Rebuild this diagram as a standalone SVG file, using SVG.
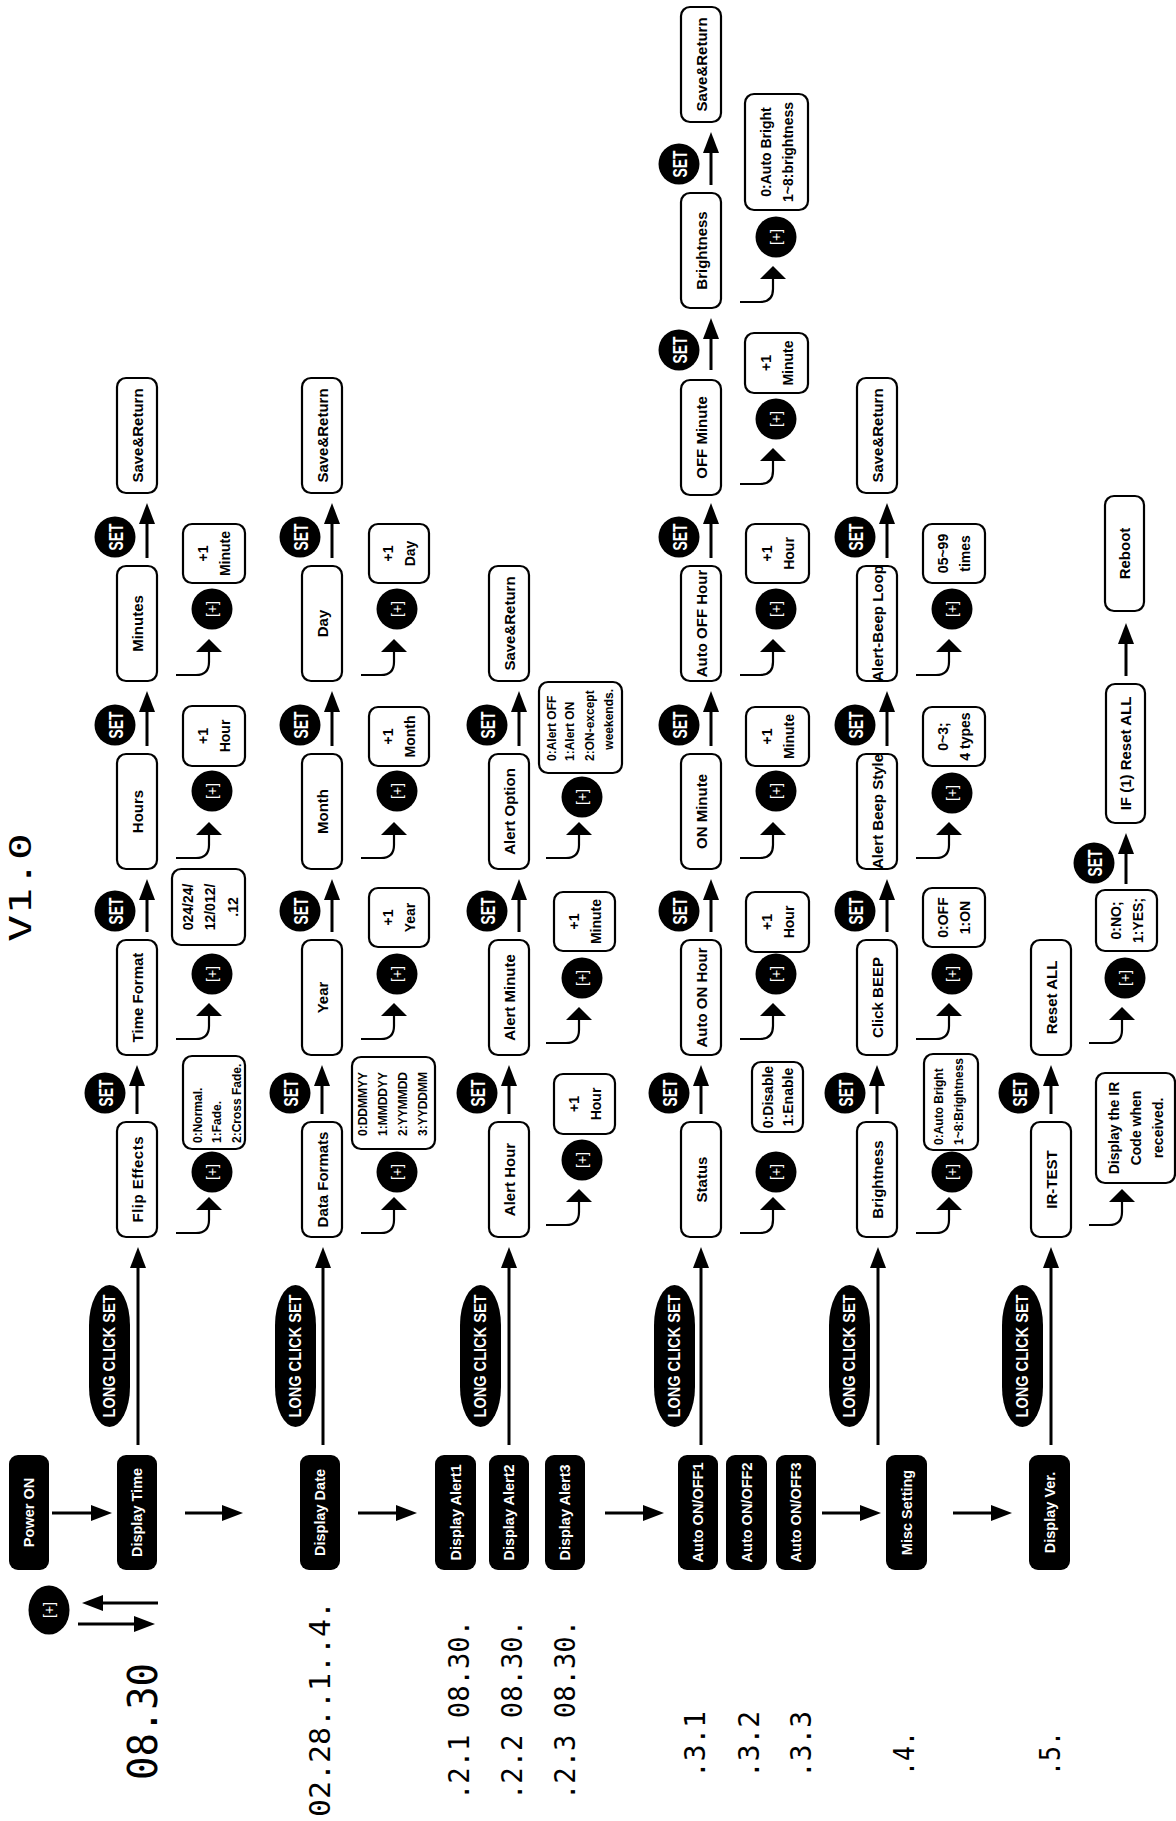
<svg xmlns="http://www.w3.org/2000/svg" width="1176" height="1821" viewBox="0 0 1176 1821">
<style>
text{font-family:"Liberation Sans",Arial,Helvetica,sans-serif}
.b{fill:#fff;stroke:#000;stroke-width:2.2}
.d{fill:#000}
.t{font-weight:bold;font-size:15px;text-anchor:middle;dominant-baseline:central;fill:#000}
.w{fill:#fff;font-size:14.5px}
.v{font-weight:bold;font-size:14px;text-anchor:middle;dominant-baseline:central;fill:#000}
.s{font-weight:bold;font-size:12px;dominant-baseline:central;fill:#000}
.p{font-size:14px;text-anchor:middle;dominant-baseline:central;fill:#fff}
.st{font-weight:bold;font-size:21px;text-anchor:middle;dominant-baseline:central;fill:#fff}
.lc{font-weight:bold;font-size:17px;text-anchor:middle;dominant-baseline:central;fill:#fff}
.ln{stroke:#000;stroke-width:3;fill:none;marker-end:url(#ah)}
.cv{stroke:#000;stroke-width:2.2;fill:none;marker-end:url(#ch)}
.seg{font-family:"DejaVu Sans Mono","Liberation Mono",monospace;fill:#000}
</style>
<defs>
<marker id="ah" markerUnits="userSpaceOnUse" viewBox="0 -9 22 18" markerWidth="22" markerHeight="18" refX="1" refY="0" orient="auto"><path d="M0,-8 L21,0 L0,8 z" fill="#000"/></marker>
<marker id="ch" markerUnits="userSpaceOnUse" viewBox="0 -14 14 28" markerWidth="14" markerHeight="28" refX="1" refY="0" orient="auto"><path d="M0,-13 L13,0 L0,13 z" fill="#000"/></marker>
</defs>

<!-- seven segment readouts -->
<g id="readouts">
<text class="seg" font-size="31" transform="translate(31 942) rotate(-90)" textLength="109" lengthAdjust="spacingAndGlyphs">V1.0</text>
<text class="seg" font-size="40" transform="translate(157 1780) rotate(-90)" textLength="117" lengthAdjust="spacingAndGlyphs">08.30</text>
<text class="seg" font-size="28" transform="translate(330 1817) rotate(-90)" textLength="216" lengthAdjust="spacingAndGlyphs">02.28..1..4.</text>
<text class="seg" font-size="29" transform="translate(469 1800) rotate(-90)" textLength="180" lengthAdjust="spacingAndGlyphs">.2.1 08.30.</text>
<text class="seg" font-size="29" transform="translate(522 1800) rotate(-90)" textLength="180" lengthAdjust="spacingAndGlyphs">.2.2 08.30.</text>
<text class="seg" font-size="29" transform="translate(575 1800) rotate(-90)" textLength="180" lengthAdjust="spacingAndGlyphs">.2.3 08.30.</text>
<text class="seg" font-size="29" transform="translate(705 1778) rotate(-90)" textLength="67" lengthAdjust="spacingAndGlyphs">.3.1</text>
<text class="seg" font-size="29" transform="translate(759 1778) rotate(-90)" textLength="67" lengthAdjust="spacingAndGlyphs">.3.2</text>
<text class="seg" font-size="29" transform="translate(811 1778) rotate(-90)" textLength="67" lengthAdjust="spacingAndGlyphs">.3.3</text>
<text class="seg" font-size="29" transform="translate(914 1776) rotate(-90)" textLength="45" lengthAdjust="spacingAndGlyphs">.4.</text>
<text class="seg" font-size="29" transform="translate(1060 1776) rotate(-90)" textLength="45" lengthAdjust="spacingAndGlyphs">.5.</text>
</g>

<!-- connectors -->
<g id="connectors">
<!-- main flow -->
<line class="ln" x1="52" y1="1513" x2="92" y2="1513"/>
<line class="ln" x1="185" y1="1513" x2="223" y2="1513"/>
<line class="ln" x1="358" y1="1513" x2="397" y2="1513"/>
<line class="ln" x1="605" y1="1513" x2="644" y2="1513"/>
<line class="ln" x1="822" y1="1513" x2="861" y2="1513"/>
<line class="ln" x1="953" y1="1513" x2="992" y2="1513"/>
<line class="ln" x1="158" y1="1603" x2="102" y2="1603"/>
<line class="ln" x1="78" y1="1624" x2="135" y2="1624"/>
<!-- long click lines -->
<line class="ln" x1="138" y1="1445" x2="138" y2="1267"/>
<line class="ln" x1="323" y1="1445" x2="323" y2="1267"/>
<line class="ln" x1="509" y1="1445" x2="509" y2="1267"/>
<line class="ln" x1="701" y1="1445" x2="701" y2="1267"/>
<line class="ln" x1="878" y1="1445" x2="878" y2="1267"/>
<line class="ln" x1="1051" y1="1445" x2="1051" y2="1267"/>
<!-- row 1 -->
<line class="ln" x1="137" y1="1114" x2="137" y2="1085"/>
<line class="ln" x1="147" y1="932" x2="147" y2="899"/>
<line class="ln" x1="147" y1="746" x2="147" y2="711"/>
<line class="ln" x1="147" y1="558" x2="147" y2="523"/>
<!-- row 2 -->
<line class="ln" x1="322" y1="1114" x2="322" y2="1085"/>
<line class="ln" x1="332" y1="932" x2="332" y2="899"/>
<line class="ln" x1="332" y1="746" x2="332" y2="711"/>
<line class="ln" x1="332" y1="558" x2="332" y2="523"/>
<!-- row 3 -->
<line class="ln" x1="509" y1="1114" x2="509" y2="1085"/>
<line class="ln" x1="519" y1="932" x2="519" y2="899"/>
<line class="ln" x1="519" y1="746" x2="519" y2="711"/>
<!-- row 4 -->
<line class="ln" x1="701" y1="1114" x2="701" y2="1085"/>
<line class="ln" x1="711" y1="932" x2="711" y2="899"/>
<line class="ln" x1="711" y1="746" x2="711" y2="711"/>
<line class="ln" x1="711" y1="558" x2="711" y2="523"/>
<line class="ln" x1="711" y1="370" x2="711" y2="338"/>
<line class="ln" x1="711" y1="185" x2="711" y2="152"/>
<!-- row 5 -->
<line class="ln" x1="877" y1="1114" x2="877" y2="1085"/>
<line class="ln" x1="887" y1="932" x2="887" y2="899"/>
<line class="ln" x1="887" y1="746" x2="887" y2="711"/>
<line class="ln" x1="887" y1="558" x2="887" y2="523"/>
<!-- row 6 -->
<line class="ln" x1="1051" y1="1114" x2="1051" y2="1085"/>
<line class="ln" x1="1126" y1="884" x2="1126" y2="853"/>
<line class="ln" x1="1126" y1="676" x2="1126" y2="643"/>
<!-- curved [+] arrows -->
<path class="cv" d="M176,1233 H196 Q209,1233 209,1220 V1209"/>
<path class="cv" d="M176,1039 H196 Q209,1039 209,1026 V1015"/>
<path class="cv" d="M176,858 H196 Q209,858 209,845 V834"/>
<path class="cv" d="M176,675 H196 Q209,675 209,662 V651"/>
<path class="cv" d="M361,1233 H381 Q394,1233 394,1220 V1209"/>
<path class="cv" d="M361,1039 H381 Q394,1039 394,1026 V1015"/>
<path class="cv" d="M361,858 H381 Q394,858 394,845 V834"/>
<path class="cv" d="M361,675 H381 Q394,675 394,662 V651"/>
<path class="cv" d="M546,1225 H566 Q579,1225 579,1212 V1201"/>
<path class="cv" d="M546,1043 H566 Q579,1043 579,1030 V1019"/>
<path class="cv" d="M546,858 H566 Q579,858 579,845 V834"/>
<path class="cv" d="M740,1233 H760 Q773,1233 773,1220 V1209"/>
<path class="cv" d="M740,1039 H760 Q773,1039 773,1026 V1015"/>
<path class="cv" d="M740,858 H760 Q773,858 773,845 V834"/>
<path class="cv" d="M740,675 H760 Q773,675 773,662 V651"/>
<path class="cv" d="M740,484 H760 Q773,484 773,471 V460"/>
<path class="cv" d="M740,302 H760 Q773,302 773,289 V278"/>
<path class="cv" d="M916,1233 H936 Q949,1233 949,1220 V1209"/>
<path class="cv" d="M916,1039 H936 Q949,1039 949,1026 V1015"/>
<path class="cv" d="M916,858 H936 Q949,858 949,845 V834"/>
<path class="cv" d="M916,675 H936 Q949,675 949,662 V651"/>
<path class="cv" d="M1089,1225 H1109 Q1122,1225 1122,1212 V1201"/>
<path class="cv" d="M1089,1043 H1109 Q1122,1043 1122,1030 V1019"/>
</g>

<!-- SET badges -->
<g id="set-badges">
<g><circle cx="105" cy="1093" r="20.5"/><text class="st" transform="translate(105 1093) rotate(-90)" textLength="27" lengthAdjust="spacingAndGlyphs">SET</text></g>
<g><circle cx="115" cy="911" r="20.5"/><text class="st" transform="translate(115 911) rotate(-90)" textLength="27" lengthAdjust="spacingAndGlyphs">SET</text></g>
<g><circle cx="115" cy="725" r="20.5"/><text class="st" transform="translate(115 725) rotate(-90)" textLength="27" lengthAdjust="spacingAndGlyphs">SET</text></g>
<g><circle cx="115" cy="537" r="20.5"/><text class="st" transform="translate(115 537) rotate(-90)" textLength="27" lengthAdjust="spacingAndGlyphs">SET</text></g>
<g><circle cx="290" cy="1093" r="20.5"/><text class="st" transform="translate(290 1093) rotate(-90)" textLength="27" lengthAdjust="spacingAndGlyphs">SET</text></g>
<g><circle cx="300" cy="911" r="20.5"/><text class="st" transform="translate(300 911) rotate(-90)" textLength="27" lengthAdjust="spacingAndGlyphs">SET</text></g>
<g><circle cx="300" cy="725" r="20.5"/><text class="st" transform="translate(300 725) rotate(-90)" textLength="27" lengthAdjust="spacingAndGlyphs">SET</text></g>
<g><circle cx="300" cy="537" r="20.5"/><text class="st" transform="translate(300 537) rotate(-90)" textLength="27" lengthAdjust="spacingAndGlyphs">SET</text></g>
<g><circle cx="477" cy="1093" r="20.5"/><text class="st" transform="translate(477 1093) rotate(-90)" textLength="27" lengthAdjust="spacingAndGlyphs">SET</text></g>
<g><circle cx="487" cy="911" r="20.5"/><text class="st" transform="translate(487 911) rotate(-90)" textLength="27" lengthAdjust="spacingAndGlyphs">SET</text></g>
<g><circle cx="487" cy="725" r="20.5"/><text class="st" transform="translate(487 725) rotate(-90)" textLength="27" lengthAdjust="spacingAndGlyphs">SET</text></g>
<g><circle cx="669" cy="1093" r="20.5"/><text class="st" transform="translate(669 1093) rotate(-90)" textLength="27" lengthAdjust="spacingAndGlyphs">SET</text></g>
<g><circle cx="679" cy="911" r="20.5"/><text class="st" transform="translate(679 911) rotate(-90)" textLength="27" lengthAdjust="spacingAndGlyphs">SET</text></g>
<g><circle cx="679" cy="725" r="20.5"/><text class="st" transform="translate(679 725) rotate(-90)" textLength="27" lengthAdjust="spacingAndGlyphs">SET</text></g>
<g><circle cx="679" cy="537" r="20.5"/><text class="st" transform="translate(679 537) rotate(-90)" textLength="27" lengthAdjust="spacingAndGlyphs">SET</text></g>
<g><circle cx="679" cy="350" r="20.5"/><text class="st" transform="translate(679 350) rotate(-90)" textLength="27" lengthAdjust="spacingAndGlyphs">SET</text></g>
<g><circle cx="679" cy="164" r="20.5"/><text class="st" transform="translate(679 164) rotate(-90)" textLength="27" lengthAdjust="spacingAndGlyphs">SET</text></g>
<g><circle cx="845" cy="1093" r="20.5"/><text class="st" transform="translate(845 1093) rotate(-90)" textLength="27" lengthAdjust="spacingAndGlyphs">SET</text></g>
<g><circle cx="855" cy="911" r="20.5"/><text class="st" transform="translate(855 911) rotate(-90)" textLength="27" lengthAdjust="spacingAndGlyphs">SET</text></g>
<g><circle cx="855" cy="725" r="20.5"/><text class="st" transform="translate(855 725) rotate(-90)" textLength="27" lengthAdjust="spacingAndGlyphs">SET</text></g>
<g><circle cx="855" cy="537" r="20.5"/><text class="st" transform="translate(855 537) rotate(-90)" textLength="27" lengthAdjust="spacingAndGlyphs">SET</text></g>
<g><circle cx="1019" cy="1093" r="20.5"/><text class="st" transform="translate(1019 1093) rotate(-90)" textLength="27" lengthAdjust="spacingAndGlyphs">SET</text></g>
<g><circle cx="1094" cy="863" r="20.5"/><text class="st" transform="translate(1094 863) rotate(-90)" textLength="27" lengthAdjust="spacingAndGlyphs">SET</text></g>
</g>

<!-- LONG CLICK SET pills -->
<g id="long-click">
<g><rect x="89" y="1285" width="41" height="142" rx="20.5" ry="40"/><text class="lc" transform="translate(109.5 1356) rotate(-90)" textLength="123" lengthAdjust="spacingAndGlyphs">LONG CLICK SET</text></g>
<g><rect x="275" y="1285" width="41" height="142" rx="20.5" ry="40"/><text class="lc" transform="translate(295.5 1356) rotate(-90)" textLength="123" lengthAdjust="spacingAndGlyphs">LONG CLICK SET</text></g>
<g><rect x="460" y="1285" width="41" height="142" rx="20.5" ry="40"/><text class="lc" transform="translate(480.5 1356) rotate(-90)" textLength="123" lengthAdjust="spacingAndGlyphs">LONG CLICK SET</text></g>
<g><rect x="654" y="1285" width="41" height="142" rx="20.5" ry="40"/><text class="lc" transform="translate(674.5 1356) rotate(-90)" textLength="123" lengthAdjust="spacingAndGlyphs">LONG CLICK SET</text></g>
<g><rect x="829" y="1285" width="41" height="142" rx="20.5" ry="40"/><text class="lc" transform="translate(849.5 1356) rotate(-90)" textLength="123" lengthAdjust="spacingAndGlyphs">LONG CLICK SET</text></g>
<g><rect x="1002" y="1285" width="41" height="142" rx="20.5" ry="40"/><text class="lc" transform="translate(1022.5 1356) rotate(-90)" textLength="123" lengthAdjust="spacingAndGlyphs">LONG CLICK SET</text></g>
</g>

<!-- main display nodes -->
<g id="power-on"><rect class="d" x="9" y="1455" width="40" height="115" rx="9"/><text class="t w" transform="translate(29 1512.5) rotate(-90)">Power ON</text></g>
<g id="display-time"><rect class="d" x="117" y="1455" width="40" height="115" rx="9"/><text class="t w" transform="translate(137 1512.5) rotate(-90)">Display Time</text></g>
<g id="display-date"><rect class="d" x="300" y="1455" width="40" height="115" rx="9"/><text class="t w" transform="translate(320 1512.5) rotate(-90)">Display Date</text></g>
<g id="display-alert1"><rect class="d" x="435" y="1455" width="41" height="115" rx="9"/><text class="t w" transform="translate(455.5 1512.5) rotate(-90)">Display Alert1</text></g>
<g id="display-alert2"><rect class="d" x="489" y="1455" width="40" height="115" rx="9"/><text class="t w" transform="translate(509 1512.5) rotate(-90)">Display Alert2</text></g>
<g id="display-alert3"><rect class="d" x="545" y="1455" width="40" height="115" rx="9"/><text class="t w" transform="translate(565 1512.5) rotate(-90)">Display Alert3</text></g>
<g id="auto-onoff1"><rect class="d" x="678" y="1455" width="40" height="115" rx="9"/><text class="t w" transform="translate(698 1512.5) rotate(-90)">Auto ON/OFF1</text></g>
<g id="auto-onoff2"><rect class="d" x="726" y="1455" width="41" height="115" rx="9"/><text class="t w" transform="translate(746.5 1512.5) rotate(-90)">Auto ON/OFF2</text></g>
<g id="auto-onoff3"><rect class="d" x="776" y="1455" width="40" height="115" rx="9"/><text class="t w" transform="translate(796 1512.5) rotate(-90)">Auto ON/OFF3</text></g>
<g id="misc-setting"><rect class="d" x="886" y="1455" width="41" height="115" rx="9"/><text class="t w" transform="translate(906.5 1512.5) rotate(-90)">Misc Setting</text></g>
<g id="display-ver"><rect class="d" x="1029" y="1455" width="41" height="115" rx="9"/><text class="t w" transform="translate(1049.5 1512.5) rotate(-90)">Display Ver.</text></g>
<g id="plus-main"><ellipse cx="49" cy="1610" rx="20.5" ry="24.5"/><text class="p" transform="translate(49 1610) rotate(-90)">[+]</text></g>

<!-- row 1: time -->
<g id="flip-effects"><rect class="b" x="117" y="1122" width="40" height="115" rx="9"/><text class="t" transform="translate(137 1179.5) rotate(-90)" textLength="86">Flip Effects</text></g>
<g id="time-format"><rect class="b" x="117" y="940" width="40" height="115" rx="9"/><text class="t" transform="translate(137 997.5) rotate(-90)">Time Format</text></g>
<g id="hours"><rect class="b" x="117" y="754" width="40" height="115" rx="9"/><text class="t" transform="translate(137 811.5) rotate(-90)">Hours</text></g>
<g id="minutes"><rect class="b" x="117" y="566" width="40" height="115" rx="9"/><text class="t" transform="translate(137 623.5) rotate(-90)">Minutes</text></g>
<g id="save1"><rect class="b" x="117" y="378" width="40" height="115" rx="9"/><text class="t" transform="translate(137 435.5) rotate(-90)">Save&amp;Return</text></g>

<!-- row 2: date -->
<g id="data-formats"><rect class="b" x="302" y="1122" width="40" height="115" rx="9"/><text class="t" transform="translate(322 1179.5) rotate(-90)">Data Formats</text></g>
<g id="year"><rect class="b" x="302" y="940" width="40" height="115" rx="9"/><text class="t" transform="translate(322 997.5) rotate(-90)">Year</text></g>
<g id="month"><rect class="b" x="302" y="754" width="40" height="115" rx="9"/><text class="t" transform="translate(322 811.5) rotate(-90)">Month</text></g>
<g id="day"><rect class="b" x="302" y="566" width="40" height="115" rx="9"/><text class="t" transform="translate(322 623.5) rotate(-90)">Day</text></g>
<g id="save2"><rect class="b" x="302" y="378" width="40" height="115" rx="9"/><text class="t" transform="translate(322 435.5) rotate(-90)">Save&amp;Return</text></g>

<!-- row 3: alerts -->
<g id="alert-hour"><rect class="b" x="489" y="1122" width="40" height="115" rx="9"/><text class="t" transform="translate(509 1179.5) rotate(-90)">Alert Hour</text></g>
<g id="alert-minute"><rect class="b" x="489" y="940" width="40" height="115" rx="9"/><text class="t" transform="translate(509 997.5) rotate(-90)">Alert Minute</text></g>
<g id="alert-option"><rect class="b" x="489" y="754" width="40" height="115" rx="9"/><text class="t" transform="translate(509 811.5) rotate(-90)">Alert Option</text></g>
<g id="save3"><rect class="b" x="489" y="566" width="40" height="115" rx="9"/><text class="t" transform="translate(509 623.5) rotate(-90)">Save&amp;Return</text></g>

<!-- row 4: auto on/off -->
<g id="status"><rect class="b" x="681" y="1122" width="40" height="115" rx="9"/><text class="t" transform="translate(701 1179.5) rotate(-90)">Status</text></g>
<g id="auto-on-hour"><rect class="b" x="681" y="940" width="40" height="115" rx="9"/><text class="t" transform="translate(701 997.5) rotate(-90)">Auto ON Hour</text></g>
<g id="on-minute"><rect class="b" x="681" y="754" width="40" height="115" rx="9"/><text class="t" transform="translate(701 811.5) rotate(-90)">ON Minute</text></g>
<g id="auto-off-hour"><rect class="b" x="681" y="566" width="40" height="115" rx="9"/><text class="t" transform="translate(701 623.5) rotate(-90)">Auto OFF Hour</text></g>
<g id="off-minute"><rect class="b" x="681" y="380" width="40" height="115" rx="9"/><text class="t" transform="translate(701 437.5) rotate(-90)">OFF Minute</text></g>
<g id="brightness4"><rect class="b" x="681" y="193" width="40" height="115" rx="9"/><text class="t" transform="translate(701 250.5) rotate(-90)">Brightness</text></g>
<g id="save4"><rect class="b" x="681" y="7" width="40" height="115" rx="9"/><text class="t" transform="translate(701 64.5) rotate(-90)">Save&amp;Return</text></g>

<!-- row 5: misc -->
<g id="brightness5"><rect class="b" x="857" y="1122" width="40" height="115" rx="9"/><text class="t" transform="translate(877 1179.5) rotate(-90)">Brightness</text></g>
<g id="click-beep"><rect class="b" x="857" y="940" width="40" height="115" rx="9"/><text class="t" transform="translate(877 997.5) rotate(-90)">Click BEEP</text></g>
<g id="alert-beep-style"><rect class="b" x="857" y="754" width="40" height="115" rx="9"/><text class="t" transform="translate(877 811.5) rotate(-90)">Alert Beep Style</text></g>
<g id="alert-beep-loop"><rect class="b" x="857" y="566" width="40" height="115" rx="9"/><text class="t" transform="translate(877 623.5) rotate(-90)">Alert-Beep Loop</text></g>
<g id="save5"><rect class="b" x="857" y="378" width="40" height="115" rx="9"/><text class="t" transform="translate(877 435.5) rotate(-90)">Save&amp;Return</text></g>

<!-- row 6: version -->
<g id="ir-test"><rect class="b" x="1031" y="1122" width="40" height="115" rx="9"/><text class="t" transform="translate(1051 1179.5) rotate(-90)">IR-TEST</text></g>
<g id="reset-all"><rect class="b" x="1031" y="940" width="40" height="115" rx="9"/><text class="t" transform="translate(1051 997.5) rotate(-90)">Reset ALL</text></g>
<g id="if-reset"><rect class="b" x="1106" y="684" width="39" height="139" rx="9"/><text class="t" transform="translate(1125.5 753.5) rotate(-90)">IF (1) Reset ALL</text></g>
<g id="reboot"><rect class="b" x="1105" y="496" width="39" height="115" rx="9"/><text class="t" transform="translate(1124.5 553.5) rotate(-90)">Reboot</text></g>

<!-- [+] buttons -->
<g id="plus-buttons">
<g><circle cx="212" cy="1172" r="20.5"/><text class="p" transform="translate(212 1172) rotate(-90)">[+]</text></g>
<g><circle cx="212" cy="974" r="20.5"/><text class="p" transform="translate(212 974) rotate(-90)">[+]</text></g>
<g><circle cx="212" cy="791" r="20.5"/><text class="p" transform="translate(212 791) rotate(-90)">[+]</text></g>
<g><circle cx="212" cy="609" r="20.5"/><text class="p" transform="translate(212 609) rotate(-90)">[+]</text></g>
<g><circle cx="397" cy="1172" r="20.5"/><text class="p" transform="translate(397 1172) rotate(-90)">[+]</text></g>
<g><circle cx="397" cy="974" r="20.5"/><text class="p" transform="translate(397 974) rotate(-90)">[+]</text></g>
<g><circle cx="397" cy="791" r="20.5"/><text class="p" transform="translate(397 791) rotate(-90)">[+]</text></g>
<g><circle cx="397" cy="609" r="20.5"/><text class="p" transform="translate(397 609) rotate(-90)">[+]</text></g>
<g><circle cx="582" cy="1160" r="20.5"/><text class="p" transform="translate(582 1160) rotate(-90)">[+]</text></g>
<g><circle cx="582" cy="978" r="20.5"/><text class="p" transform="translate(582 978) rotate(-90)">[+]</text></g>
<g><circle cx="582" cy="797" r="20.5"/><text class="p" transform="translate(582 797) rotate(-90)">[+]</text></g>
<g><circle cx="776" cy="1172" r="20.5"/><text class="p" transform="translate(776 1172) rotate(-90)">[+]</text></g>
<g><circle cx="776" cy="974" r="20.5"/><text class="p" transform="translate(776 974) rotate(-90)">[+]</text></g>
<g><circle cx="776" cy="791" r="20.5"/><text class="p" transform="translate(776 791) rotate(-90)">[+]</text></g>
<g><circle cx="776" cy="609" r="20.5"/><text class="p" transform="translate(776 609) rotate(-90)">[+]</text></g>
<g><circle cx="776" cy="419" r="20.5"/><text class="p" transform="translate(776 419) rotate(-90)">[+]</text></g>
<g><circle cx="776" cy="237" r="20.5"/><text class="p" transform="translate(776 237) rotate(-90)">[+]</text></g>
<g><circle cx="952" cy="1172" r="20.5"/><text class="p" transform="translate(952 1172) rotate(-90)">[+]</text></g>
<g><circle cx="952" cy="974" r="20.5"/><text class="p" transform="translate(952 974) rotate(-90)">[+]</text></g>
<g><circle cx="952" cy="793" r="20.5"/><text class="p" transform="translate(952 793) rotate(-90)">[+]</text></g>
<g><circle cx="952" cy="609" r="20.5"/><text class="p" transform="translate(952 609) rotate(-90)">[+]</text></g>
<g><circle cx="1125" cy="978" r="20.5"/><text class="p" transform="translate(1125 978) rotate(-90)">[+]</text></g>
</g>

<!-- value boxes -->
<g id="v-flip"><rect class="b" x="183" y="1056" width="62" height="93" rx="9"/><text class="s" transform="translate(183 1143) rotate(-90)"><tspan x="0" y="15">0:Normal.</tspan><tspan x="0" y="34">1:Fade.</tspan><tspan x="0" y="54">2:Cross Fade.</tspan></text></g>
<g id="v-timefmt"><rect class="b" x="172" y="869" width="73" height="76" rx="9"/><text class="v" font-size="13" transform="translate(208.5 907) rotate(-90)"><tspan x="0" y="-21">024/24/</tspan><tspan x="0" y="1">12/012/</tspan><tspan x="0" y="24">.12</tspan></text></g>
<g id="v-hour1"><rect class="b" x="183" y="706" width="62" height="60" rx="9"/><text class="v" transform="translate(214 736) rotate(-90)"><tspan x="0" y="-11">+1</tspan><tspan x="0" y="11">Hour</tspan></text></g>
<g id="v-min1"><rect class="b" x="183" y="524" width="62" height="59" rx="9"/><text class="v" transform="translate(214 553.5) rotate(-90)"><tspan x="0" y="-11">+1</tspan><tspan x="0" y="11">Minute</tspan></text></g>

<g id="v-datefmt"><rect class="b" x="352" y="1057" width="83" height="92" rx="9"/><text class="s" transform="translate(352 1136) rotate(-90)"><tspan x="0" y="11">0:DDMMYY</tspan><tspan x="0" y="31">1:MMDDYY</tspan><tspan x="0" y="51">2:YYMMDD</tspan><tspan x="0" y="71">3:YYDDMM</tspan></text></g>
<g id="v-year"><rect class="b" x="369" y="888" width="60" height="59" rx="9"/><text class="v" transform="translate(399 917.5) rotate(-90)"><tspan x="0" y="-11">+1</tspan><tspan x="0" y="11">Year</tspan></text></g>
<g id="v-month"><rect class="b" x="369" y="707" width="60" height="59" rx="9"/><text class="v" transform="translate(399 736.5) rotate(-90)"><tspan x="0" y="-11">+1</tspan><tspan x="0" y="11">Month</tspan></text></g>
<g id="v-day"><rect class="b" x="369" y="524" width="60" height="59" rx="9"/><text class="v" transform="translate(399 553.5) rotate(-90)"><tspan x="0" y="-11">+1</tspan><tspan x="0" y="11">Day</tspan></text></g>

<g id="v-ahour"><rect class="b" x="554" y="1074" width="61" height="60" rx="9"/><text class="v" transform="translate(584.5 1104) rotate(-90)"><tspan x="0" y="-11">+1</tspan><tspan x="0" y="11">Hour</tspan></text></g>
<g id="v-amin"><rect class="b" x="554" y="892" width="61" height="59" rx="9"/><text class="v" transform="translate(584.5 921.5) rotate(-90)"><tspan x="0" y="-11">+1</tspan><tspan x="0" y="11">Minute</tspan></text></g>
<g id="v-aopt"><rect class="b" x="539" y="682" width="83" height="91" rx="9"/><text class="s" transform="translate(539 761) rotate(-90)"><tspan x="0" y="13">0:Alert OFF</tspan><tspan x="0" y="31">1:Alert ON</tspan><tspan x="0" y="51">2:ON-except</tspan></text><text class="s" text-anchor="end" transform="translate(539 689) rotate(-90)" x="0" y="70">weekends.</text></g>

<g id="v-status"><rect class="b" x="752" y="1062" width="51" height="70" rx="9"/><text class="v" font-size="11" transform="translate(777.5 1097) rotate(-90)"><tspan x="0" y="-10">0:Disable</tspan><tspan x="0" y="10">1:Enable</tspan></text></g>
<g id="v-onhour"><rect class="b" x="746" y="892" width="63" height="60" rx="9"/><text class="v" transform="translate(777.5 922) rotate(-90)"><tspan x="0" y="-11">+1</tspan><tspan x="0" y="11">Hour</tspan></text></g>
<g id="v-onmin"><rect class="b" x="746" y="707" width="63" height="59" rx="9"/><text class="v" transform="translate(777.5 736.5) rotate(-90)"><tspan x="0" y="-11">+1</tspan><tspan x="0" y="11">Minute</tspan></text></g>
<g id="v-offhour"><rect class="b" x="746" y="524" width="63" height="59" rx="9"/><text class="v" transform="translate(777.5 553.5) rotate(-90)"><tspan x="0" y="-11">+1</tspan><tspan x="0" y="11">Hour</tspan></text></g>
<g id="v-offmin"><rect class="b" x="745" y="333" width="63" height="60" rx="9"/><text class="v" transform="translate(776.5 363) rotate(-90)"><tspan x="0" y="-11">+1</tspan><tspan x="0" y="11">Minute</tspan></text></g>
<g id="v-bright4"><rect class="b" x="745" y="94" width="63" height="116" rx="9"/><text class="v" transform="translate(776.5 152) rotate(-90)"><tspan x="0" y="-11">0:Auto Bright</tspan><tspan x="0" y="11">1~8:brightness</tspan></text></g>

<g id="v-bright5"><rect class="b" x="924" y="1054" width="54" height="96" rx="9"/><text class="s" transform="translate(924 1145) rotate(-90)"><tspan x="0" y="15">0:Auto Bright</tspan><tspan x="0" y="35">1~8:Brightness</tspan></text></g>
<g id="v-click"><rect class="b" x="923" y="888" width="62" height="59" rx="9"/><text class="v" transform="translate(954 917.5) rotate(-90)"><tspan x="0" y="-11">0:OFF</tspan><tspan x="0" y="11">1:ON</tspan></text></g>
<g id="v-style"><rect class="b" x="923" y="707" width="62" height="59" rx="9"/><text class="v" transform="translate(954 736.5) rotate(-90)"><tspan x="0" y="-11">0~3;</tspan><tspan x="0" y="11">4 types</tspan></text></g>
<g id="v-loop"><rect class="b" x="923" y="524" width="62" height="59" rx="9"/><text class="v" transform="translate(954 553.5) rotate(-90)"><tspan x="0" y="-11">05~99</tspan><tspan x="0" y="11">times</tspan></text></g>

<g id="v-ir"><rect class="b" x="1096" y="1073" width="79" height="110" rx="9"/><text class="v" transform="translate(1135.5 1128) rotate(-90)"><tspan x="0" y="-22">Display the IR</tspan><tspan x="0" y="0">Code when</tspan><tspan x="0" y="22">received.</tspan></text></g>
<g id="v-reset"><rect class="b" x="1096" y="890" width="61" height="61" rx="9"/><text class="v" transform="translate(1126.5 920.5) rotate(-90)"><tspan x="0" y="-11">0:NO;</tspan><tspan x="0" y="11">1:YES;</tspan></text></g>
</svg>
